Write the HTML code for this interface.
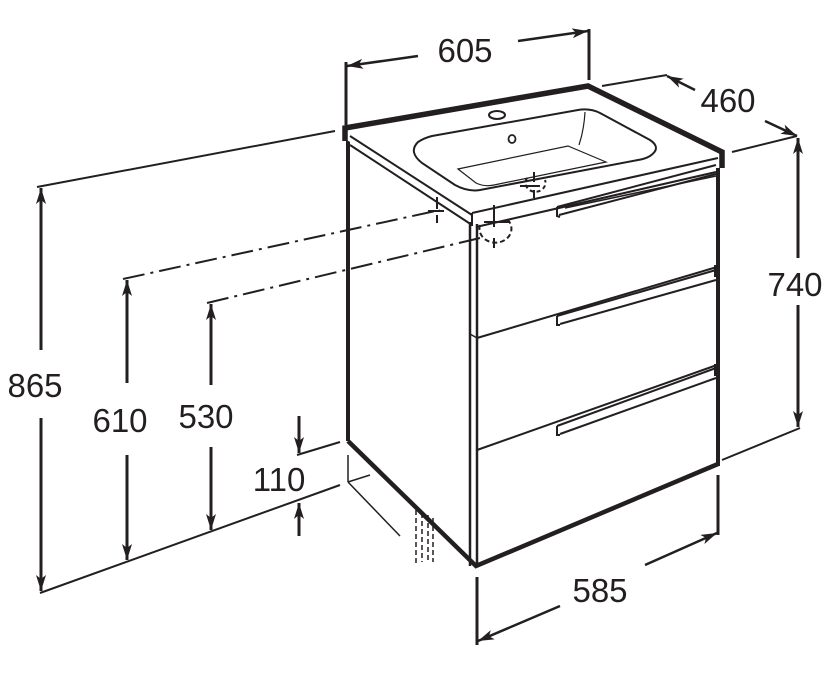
<!DOCTYPE html>
<html><head><style>
html,body{margin:0;padding:0;background:#fff;}
svg{display:block;}
text{font-family:"Liberation Sans",Arial,sans-serif;font-size:33px;fill:#231f20;}
</style></head><body>
<svg width="825" height="684" viewBox="0 0 825 684" xmlns="http://www.w3.org/2000/svg">
<defs>
<marker id="a" viewBox="0 0 16 10" refX="16" refY="5" markerWidth="16" markerHeight="10" markerUnits="userSpaceOnUse" orient="auto">
<path d="M0,0 L16,5 L0,10 L4,5 Z" fill="#231f20"/>
</marker>
</defs>
<g stroke="#231f20" fill="none" stroke-linecap="butt">
<line x1="346" y1="62" x2="346" y2="125" stroke-width="3"/>
<line x1="589" y1="29" x2="589" y2="80" stroke-width="3"/>
<line x1="418" y1="56" x2="347" y2="66" stroke-width="2.5" marker-end="url(#a)"/>
<line x1="518" y1="41" x2="588" y2="31" stroke-width="2.5" marker-end="url(#a)"/>
<line x1="602" y1="86" x2="667" y2="75" stroke-width="2"/>
<line x1="695" y1="90" x2="667" y2="76" stroke-width="2.5" marker-end="url(#a)"/>
<line x1="765" y1="121" x2="797" y2="136" stroke-width="2.5" marker-end="url(#a)"/>
<line x1="732" y1="152" x2="797" y2="136" stroke-width="2"/>
<line x1="798" y1="258" x2="798" y2="138" stroke-width="3" marker-end="url(#a)"/>
<line x1="798" y1="305" x2="798" y2="427" stroke-width="3" marker-end="url(#a)"/>
<line x1="722" y1="460" x2="800" y2="428" stroke-width="2"/>
<line x1="37" y1="187" x2="335" y2="131" stroke-width="2"/>
<line x1="41" y1="350" x2="41" y2="188" stroke-width="3" marker-end="url(#a)"/>
<line x1="41" y1="418" x2="41" y2="591" stroke-width="3" marker-end="url(#a)"/>
<line x1="40" y1="593" x2="340" y2="485" stroke-width="2"/>
<line x1="123" y1="279" x2="440" y2="210" stroke-width="2" stroke-dasharray="22,6,3,6"/>
<line x1="127" y1="383" x2="127" y2="280" stroke-width="3" marker-end="url(#a)"/>
<line x1="127" y1="455" x2="127" y2="560" stroke-width="3" marker-end="url(#a)"/>
<line x1="207" y1="303" x2="480" y2="238" stroke-width="2" stroke-dasharray="22,6,3,6"/>
<line x1="211" y1="385" x2="211" y2="304" stroke-width="3" marker-end="url(#a)"/>
<line x1="211" y1="447" x2="211" y2="530" stroke-width="3" marker-end="url(#a)"/>
<line x1="299" y1="416" x2="299" y2="453" stroke-width="3" marker-end="url(#a)"/>
<line x1="297" y1="455" x2="340" y2="442" stroke-width="2"/>
<line x1="299" y1="536" x2="299" y2="503" stroke-width="3" marker-end="url(#a)"/>
<line x1="477" y1="577" x2="477" y2="645" stroke-width="3"/>
<line x1="718" y1="475" x2="718" y2="535" stroke-width="3"/>
<line x1="560" y1="606" x2="478" y2="641" stroke-width="2.5" marker-end="url(#a)"/>
<line x1="645" y1="565" x2="717" y2="533" stroke-width="2.5" marker-end="url(#a)"/>

<line x1="348" y1="138" x2="348" y2="441" stroke-width="4"/>
<line x1="470" y1="222" x2="470" y2="566" stroke-width="2.5"/>
<line x1="477" y1="224" x2="477" y2="566" stroke-width="2.5"/>
<line x1="718" y1="168" x2="718" y2="466" stroke-width="4"/>
<polyline points="348,441 476,566 718,464" stroke-width="4.5"/>
<line x1="348" y1="455" x2="348" y2="482" stroke-width="1.5"/>
<line x1="348" y1="482" x2="400" y2="536" stroke-width="1.5"/>
<line x1="348" y1="482" x2="370" y2="475" stroke-width="1.5"/>
<g stroke-width="1.5" stroke-dasharray="5,3">
<line x1="416" y1="510" x2="416" y2="564"/>
<line x1="422" y1="513" x2="422" y2="562"/>
<line x1="428" y1="515" x2="428" y2="562"/>
<line x1="433" y1="518" x2="433" y2="562"/>
</g>
<line x1="477" y1="338" x2="717" y2="267" stroke-width="2"/>
<line x1="470" y1="334" x2="477" y2="338" stroke-width="1.5"/>
<line x1="477" y1="450" x2="717" y2="365" stroke-width="2"/>
<g stroke-width="2">
<path d="M557,207 L716,165 M559,215 L716,174 M557,207 L557,216 L560,217"/>
<path d="M557,316 L716,270 M560,324 L716,280 M557,316 L557,325 L560,325"/>
<path d="M557,426 L716,368 M560,434 L716,378 M557,426 L557,435 L560,435"/>
</g>
<rect x="714" y="265" width="5" height="12" fill="#231f20" stroke="none"/>
<rect x="714" y="364" width="5" height="12" fill="#231f20" stroke="none"/>
<polygon points="345,128 588,86 722,152 720,160 472,213 345,139" fill="#fff" stroke="none"/>
<polyline points="345,141 345,128 588,86 722,152 722,168" stroke-width="5.5" stroke-linejoin="miter"/>
<line x1="350" y1="136" x2="472" y2="215" stroke-width="2"/>
<line x1="350" y1="145" x2="472" y2="225" stroke-width="2"/>
<line x1="472" y1="213" x2="718" y2="158" stroke-width="2"/>
<line x1="472" y1="213" x2="472" y2="226" stroke-width="2"/>
<line x1="476" y1="227" x2="716" y2="172" stroke-width="2"/>
<line x1="565" y1="208" x2="716" y2="176" stroke-width="1.5"/>
<!-- basin -->
<path d="M432,136 L578,110 Q590,108 600,113 L650,140 Q662,148 650,156 Q645,159 638,160 L480,190 Q468,192 455,185 L422,163 Q408,152 418,142 Q424,138 432,136 Z" stroke-width="2"/>
<path d="M458,169 L476,183 Q484,187 494,185 L606,162 L568,146 Z" stroke-width="1.2"/>
<path d="M585,112 Q584,130 579,145" stroke-width="1.2"/>
<ellipse cx="497" cy="115" rx="8" ry="4" stroke-width="2"/>
<ellipse cx="512" cy="139" rx="3.5" ry="4" stroke-width="1.8"/>
<g stroke-width="2">
<path d="M534,172 v10 M520,186 h20 M534,190 v8" />
<path d="M527,178 a10,9 0 1,0 18,2" stroke-dasharray="4,3"/>
<path d="M437,197 v12 M428,211 h16 M437,215 v8"/>
<path d="M494,205 v22 M484,222 h25 M494,238 v10"/>
<path d="M480,225 a16,14 0 1,0 28,-5" stroke-dasharray="5,3"/>
</g>
</g>
<g>
<text x="465" y="62" text-anchor="middle">605</text>
<text x="728" y="112" text-anchor="middle">460</text>
<text x="795" y="296" text-anchor="middle">740</text>
<text x="35" y="397" text-anchor="middle">865</text>
<text x="120" y="432" text-anchor="middle">610</text>
<text x="206" y="428" text-anchor="middle">530</text>
<text x="279" y="491" text-anchor="middle">110</text>
<text x="600" y="602" text-anchor="middle">585</text>
</g>
</svg>
</body></html>
